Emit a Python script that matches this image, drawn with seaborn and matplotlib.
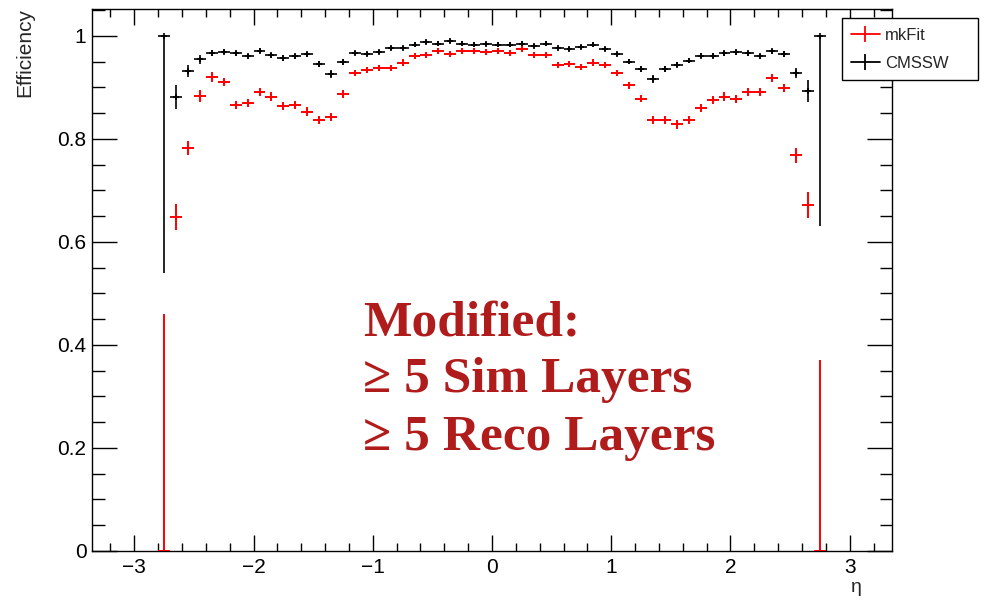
import matplotlib
matplotlib.use("Agg")
import matplotlib.pyplot as plt
import matplotlib.ticker as mticker
from matplotlib.lines import Line2D
import seaborn as sns
import pandas as pd

# ---------------- data ----------------
eta = [-2.75, -2.65, -2.55, -2.45, -2.35, -2.25, -2.15, -2.05, -1.95, -1.85,
       -1.75, -1.65, -1.55, -1.45, -1.35, -1.25, -1.15, -1.05, -0.95, -0.85,
       -0.75, -0.65, -0.55, -0.45, -0.35, -0.25, -0.15, -0.05,
       0.05, 0.15, 0.25, 0.35, 0.45, 0.55, 0.65, 0.75, 0.85, 0.95,
       1.05, 1.15, 1.25, 1.35, 1.45, 1.55, 1.65, 1.75, 1.85, 1.95,
       2.05, 2.15, 2.25, 2.35, 2.45, 2.55, 2.65, 2.75]

cmssw_eff = [1.0, 0.881, 0.932, 0.954, 0.966, 0.969, 0.966, 0.960, 0.971, 0.962,
             0.957, 0.960, 0.964, 0.946, 0.926, 0.949, 0.966, 0.964, 0.968, 0.977,
             0.976, 0.983, 0.988, 0.985, 0.990, 0.985, 0.983, 0.984,
             0.983, 0.983, 0.985, 0.980, 0.985, 0.977, 0.974, 0.978, 0.983, 0.974,
             0.964, 0.950, 0.935, 0.916, 0.935, 0.944, 0.952, 0.961, 0.961, 0.966,
             0.968, 0.966, 0.960, 0.970, 0.965, 0.928, 0.893, 1.0]

mkfit_eff = [0.0, 0.649, 0.782, 0.883, 0.920, 0.910, 0.865, 0.870, 0.891, 0.882,
             0.864, 0.865, 0.853, 0.837, 0.842, 0.887, 0.928, 0.934, 0.937, 0.937,
             0.948, 0.960, 0.962, 0.970, 0.964, 0.971, 0.971, 0.968,
             0.970, 0.966, 0.974, 0.962, 0.962, 0.944, 0.946, 0.940, 0.948, 0.943,
             0.928, 0.904, 0.878, 0.837, 0.837, 0.828, 0.836, 0.860, 0.875, 0.882,
             0.878, 0.891, 0.891, 0.918, 0.899, 0.768, 0.672, 0.0]

cmssw_err_lo = [0.46, 0.023, 0.012, 0.008, 0.006, 0.005, 0.005, 0.005, 0.005, 0.005,
                0.005, 0.005, 0.005, 0.006, 0.007, 0.006, 0.004, 0.004, 0.004, 0.004,
                0.004, 0.004, 0.004, 0.004, 0.004, 0.004, 0.004, 0.004,
                0.004, 0.004, 0.004, 0.004, 0.004, 0.004, 0.004, 0.004, 0.004, 0.004,
                0.004, 0.005, 0.006, 0.007, 0.006, 0.005, 0.005, 0.005, 0.005, 0.005,
                0.005, 0.005, 0.005, 0.005, 0.006, 0.010, 0.022, 0.37]
cmssw_err_hi = [0.0, 0.023, 0.012, 0.008, 0.006, 0.005, 0.005, 0.005, 0.005, 0.005,
                0.005, 0.005, 0.005, 0.006, 0.007, 0.006, 0.004, 0.004, 0.004, 0.004,
                0.004, 0.004, 0.004, 0.004, 0.004, 0.004, 0.004, 0.004,
                0.004, 0.004, 0.004, 0.004, 0.004, 0.004, 0.004, 0.004, 0.004, 0.004,
                0.004, 0.005, 0.006, 0.007, 0.006, 0.005, 0.005, 0.005, 0.005, 0.005,
                0.005, 0.005, 0.005, 0.005, 0.006, 0.010, 0.022, 0.0]

mkfit_err_lo = [0.0, 0.025, 0.014, 0.011, 0.009, 0.008, 0.008, 0.008, 0.008, 0.008,
                0.008, 0.008, 0.008, 0.008, 0.008, 0.007, 0.006, 0.006, 0.006, 0.006,
                0.006, 0.006, 0.006, 0.006, 0.006, 0.006, 0.006, 0.006,
                0.006, 0.006, 0.006, 0.006, 0.006, 0.006, 0.006, 0.006, 0.006, 0.006,
                0.006, 0.007, 0.007, 0.008, 0.008, 0.008, 0.008, 0.008, 0.008, 0.008,
                0.008, 0.008, 0.008, 0.008, 0.008, 0.014, 0.025, 0.0]
mkfit_err_hi = [0.46, 0.025, 0.014, 0.011, 0.009, 0.008, 0.008, 0.008, 0.008, 0.008,
                0.008, 0.008, 0.008, 0.008, 0.008, 0.007, 0.006, 0.006, 0.006, 0.006,
                0.006, 0.006, 0.006, 0.006, 0.006, 0.006, 0.006, 0.006,
                0.006, 0.006, 0.006, 0.006, 0.006, 0.006, 0.006, 0.006, 0.006, 0.006,
                0.006, 0.007, 0.007, 0.008, 0.008, 0.008, 0.008, 0.008, 0.008, 0.008,
                0.008, 0.008, 0.008, 0.008, 0.008, 0.014, 0.025, 0.37]

bin_half_width = 0.05

series_names = ["mkFit", "CMSSW"]
series_colors = {"mkFit": "#ff0000", "CMSSW": "#000000"}

y_ticks = [0, 0.2, 0.4, 0.6, 0.8, 1.0]
y_tick_labels = ["0", "0.2", "0.4", "0.6", "0.8", "1"]
x_ticks = [-3, -2, -1, 0, 1, 2, 3]

note_lines = ["Modified:", "\u2265 5 Sim Layers", "\u2265 5 Reco Layers"]

# ---------------- style ----------------
sns.set_theme(style="ticks")
plt.rcParams["font.family"] = ["Liberation Sans", "DejaVu Sans"]
plt.rcParams["axes.unicode_minus"] = True

W, H = 984, 600
fig = plt.figure(figsize=(W / 100, H / 100), dpi=100)
fig.patch.set_facecolor("white")
ax = fig.add_axes([92 / W, 1 - 551 / H, 800 / W, 542 / H])
ax.set_facecolor("white")

df = pd.DataFrame({
    "eta": eta + eta,
    "eff": mkfit_eff + cmssw_eff,
    "algo": ["mkFit"] * len(eta) + ["CMSSW"] * len(eta),
})

# error bars (bin width horizontally, asymmetric efficiency errors vertically)
ax.errorbar(eta, mkfit_eff, xerr=bin_half_width, yerr=[mkfit_err_lo, mkfit_err_hi],
            fmt="none", ecolor=series_colors["mkFit"], elinewidth=1.4, capsize=0, zorder=3)
ax.errorbar(eta, cmssw_eff, xerr=bin_half_width, yerr=[cmssw_err_lo, cmssw_err_hi],
            fmt="none", ecolor=series_colors["CMSSW"], elinewidth=1.2, capsize=0, zorder=4)

sns.scatterplot(data=df, x="eta", y="eff", hue="algo", palette=series_colors,
                marker="+", s=18, linewidth=1.2, legend=False, ax=ax, zorder=5)

ax.set_xlim(-3.355, 3.355)
ax.set_ylim(0, 1.052)

ax.set_xticks(x_ticks)
ax.xaxis.set_minor_locator(mticker.MultipleLocator(0.2))
ax.set_yticks(y_ticks)
ax.set_yticklabels(y_tick_labels)
ax.yaxis.set_minor_locator(mticker.MultipleLocator(0.05))

ax.tick_params(axis="both", which="both", direction="in", top=True, right=True,
               colors="black", width=1.0, labelsize=15)
ax.tick_params(axis="x", which="major", length=11.5, pad=5)
ax.tick_params(axis="x", which="minor", length=5.8)
ax.tick_params(axis="y", which="major", length=18, pad=4)
ax.tick_params(axis="y", which="minor", length=9)
for sp in ax.spines.values():
    sp.set_color("black")
    sp.set_linewidth(1.0)
ax.grid(False)

ax.set_xlabel("")
ax.set_ylabel("")
fig.text(25 / W, 1 - 8 / H, "Efficiency", rotation=90, ha="center", va="top", fontsize=15)
fig.text(856 / W, 1 - 587 / H, "\u03b7", ha="center", va="center", fontsize=14)

# annotation
baselines_px = [335, 392, 450]
for line, yb in zip(note_lines, baselines_px):
    fig.text(363 / W, 1 - yb / H, line, ha="left", va="baseline",
             fontsize=37, fontweight="bold", color="#b01c1c",
             family=["Liberation Serif", "DejaVu Serif"])

# legend
handles = [Line2D([0, 1], [0, 0], color=series_colors[n], lw=1.3, marker="|",
                  markersize=12, markeredgewidth=1.3) for n in series_names]
leg = fig.legend(handles, series_names, loc="lower left",
                 bbox_to_anchor=(842 / W, 1 - 80 / H, 136 / W, 60 / H), mode="expand",
                 fontsize=12, frameon=True, fancybox=False, shadow=False,
                 borderpad=0.55, labelspacing=0.8, handlelength=1.7, handletextpad=0.35,
                 borderaxespad=0)
leg.get_frame().set_edgecolor("black")
leg.get_frame().set_linewidth(1.0)
leg.get_frame().set_facecolor("white")
leg.get_frame().set_alpha(1.0)

fig.savefig("out.png", dpi=100)
